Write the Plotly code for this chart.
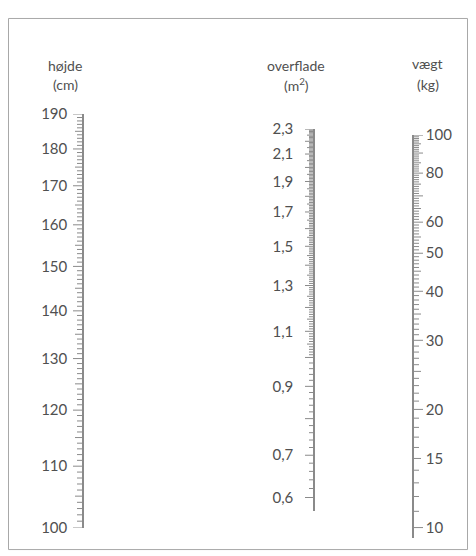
import numpy as np
import plotly.graph_objects as go

# ---- data ----
height_labels = [100, 110, 120, 130, 140, 150, 160, 170, 180, 190]
height_ticks = list(range(100, 191))

surface_labels = [0.6, 0.7, 0.9, 1.1, 1.3, 1.5, 1.7, 1.9, 2.1, 2.3]
surface_label_text = ["0,6", "0,7", "0,9", "1,1", "1,3", "1,5", "1,7", "1,9", "2,1", "2,3"]
surface_ticks = [round(v, 2) for v in list(np.arange(0.60, 1.0, 0.02)) + list(np.arange(1.0, 2.305, 0.01))]

weight_labels = [10, 15, 20, 30, 40, 50, 60, 80, 100]
weight_ticks = list(range(10, 101))

LINE = "#8a8a8a"
TXT = "#505050"
FONT = "Lato"

# figure placed inside the page's 8px body margin
OFF = 8
W = 460
H = 551
# vertical placement correction measured from the rendered page
VA, VB = 9.0, 0.9686


def px_x(x):
    return (x - OFF) / W


def px_y(y):
    fy = (y - VA) / VB - OFF
    return 1 - fy / H


def tick_segments(vals, direction, major, medium, lens):
    xs, ys = [], []
    for v in vals:
        if major(v):
            L = lens[0]
        elif medium(v):
            L = lens[1]
        else:
            L = lens[2]
        xs += [0, direction * L, None]
        ys += [v, v, None]
    return xs, ys


fig = go.Figure()

cols = [
    dict(line=83, top=113, bot=527, lo=100, hi=190, ticks=height_ticks, d=-1,
         major=lambda v: v % 10 == 0, medium=lambda v: v % 5 == 0, lens=(10, 8, 6),
         lab=height_labels, txt=[str(v) for v in height_labels], side="left", tl=12),
    dict(line=314, top=128, bot=510, lo=0.572, hi=2.3, ticks=surface_ticks, d=-1,
         major=lambda v: abs(v * 10 - round(v * 10)) < 1e-6,
         medium=lambda v: abs(v * 20 - round(v * 20)) < 1e-6, lens=(9, 7, 5),
         lab=surface_labels, txt=surface_label_text, side="left", tl=17),
    dict(line=413, top=134, bot=537, lo=9.43, hi=100, ticks=weight_ticks, d=1,
         major=lambda v: v % 10 == 0, medium=lambda v: v % 5 == 0, lens=(10, 8, 6),
         lab=weight_labels, txt=[str(v) for v in weight_labels], side="right", tl=9),
]

layout = {}
for i, c in enumerate(cols, start=1):
    xs, ys = tick_segments(c["ticks"], c["d"], c["major"], c["medium"], c["lens"])
    suffix = "" if i == 1 else str(i)
    fig.add_trace(go.Scatter(x=xs, y=ys, mode="lines", xaxis="x" + suffix, yaxis="y" + suffix,
                             line=dict(color=LINE, width=1), hoverinfo="skip", showlegend=False))
    p = px_x(c["line"])
    layout["xaxis" + suffix] = dict(domain=[p - 30 / W, p + 30 / W], range=[-30, 30], visible=False,
                                    anchor="y" + suffix, fixedrange=True)
    layout["yaxis" + suffix] = dict(
        type="log", domain=[px_y(c["bot"]), px_y(c["top"])],
        range=[np.log10(c["lo"]), np.log10(c["hi"])],
        anchor="free", position=p, side=c["side"],
        showline=True, linecolor=LINE, linewidth=1.5,
        showgrid=False, zeroline=False,
        tickmode="array", tickvals=c["lab"], ticktext=c["txt"],
        ticks="outside", ticklen=c["tl"], tickcolor="rgba(0,0,0,0)",
        tickfont=dict(family=FONT, size=15, color=TXT), fixedrange=True,
    )

titles = [
    ("højde", 65, 64), ("(cm)", 65, 83),
    ("overflade", 296, 64), ("(m<sup>2</sup>)", 296, 83),
    ("vægt", 427, 62), ("(kg)", 428, 83),
]
annotations = [dict(text=t, x=px_x(x), y=px_y(y), xref="paper", yref="paper", showarrow=False,
                    xanchor="center", yanchor="middle",
                    font=dict(family=FONT, size=14, color=TXT)) for t, x, y in titles]

fig.update_layout(
    width=W, height=H, margin=dict(l=0, r=0, t=0, b=0),
    paper_bgcolor="white", plot_bgcolor="white",
    annotations=annotations,
    shapes=[dict(type="rect", xref="paper", yref="paper", x0=0.5 / W, x1=1 - 0.5 / W,
                 y0=px_y(549), y1=1 - 0.5 / H, line=dict(color="#a8a8a8", width=1))],
    **layout,
)

fig.write_html("out.html")
